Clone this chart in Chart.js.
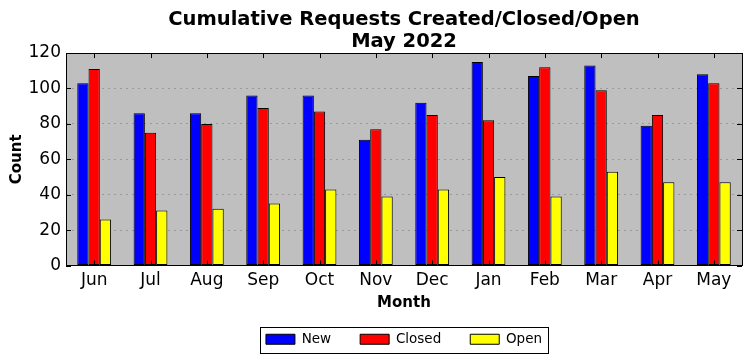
<!DOCTYPE html>
<html>
<head>
<meta charset="utf-8">
<script src="https://cdn.jsdelivr.net/npm/chart.js@4"></script>
<style>
  html, body { margin: 0; padding: 0; background: #fff; }
  #wrap { width: 752px; height: 361px; position: relative; }
</style>
</head>
<body>
<div id="wrap"><canvas id="chart"></canvas></div>
<script>
const months = ["Jun", "Jul", "Aug", "Sep", "Oct", "Nov", "Dec", "Jan", "Feb", "Mar", "Apr", "May"];
const newReqs = [103, 86, 86, 96, 96, 71, 92, 115, 107, 113, 79, 108];
const closedReqs = [111, 75, 80, 89, 87, 77, 85, 82, 112, 99, 85, 103];
const openReqs = [26, 31, 32, 35, 43, 39, 43, 50, 39, 53, 47, 47];
const yTicks = [0, 20, 40, 60, 80, 100, 120];

const FONT = "'DejaVu Sans', sans-serif";

// grey plot background, black frame, inward tick marks, legend box
const plotDecor = {
  id: "plotDecor",
  afterUpdate(chart) {
    // title and legend are centred over the plot area in the original
    const a = chart.chartArea;
    chart.legend.left = a.left;
    chart.legend.right = a.right;
    chart.titleBlock.left = a.left;
    chart.titleBlock.right = a.right;
  },
  beforeDraw(chart) {
    const a = chart.chartArea;
    const ctx = chart.ctx;
    ctx.save();
    ctx.fillStyle = "#bfbfbf";
    ctx.fillRect(a.left, a.top, a.right - a.left, a.bottom - a.top);
    ctx.restore();
  },
  afterDraw(chart) {
    const a = chart.chartArea;
    const ctx = chart.ctx;
    const x = chart.scales.x;
    const y = chart.scales.y;
    ctx.save();
    ctx.strokeStyle = "#000";
    ctx.lineWidth = 1;
    ctx.beginPath();
    months.forEach((m, i) => {
      const px = Math.round(x.getPixelForValue(i)) + 0.5;
      ctx.moveTo(px, a.top); ctx.lineTo(px, a.top + 5);
      ctx.moveTo(px, a.bottom); ctx.lineTo(px, a.bottom - 5);
    });
    yTicks.forEach(v => {
      const py = Math.round(y.getPixelForValue(v)) + 0.5;
      ctx.moveTo(a.left, py); ctx.lineTo(a.left + 5, py);
      ctx.moveTo(a.right, py); ctx.lineTo(a.right - 5, py);
    });
    ctx.stroke();
    ctx.strokeRect(Math.round(a.left) + 0.5, Math.round(a.top) + 0.5,
      Math.round(a.right - a.left), Math.round(a.bottom - a.top));

    // box round the legend items
    const lg = chart.legend;
    const pad = lg.options.labels.padding;
    const boxes = lg.legendHitBoxes;
    if (boxes && boxes.length) {
      const w = lg.lineWidths[0] - pad;
      const l = (lg.left + pad + lg.right - lg.lineWidths[0]) / 2 - 6;
      const t = lg.top + pad - 6;
      const h = boxes[0].height + 12;
      ctx.strokeRect(Math.round(l) + 0.5, Math.round(t) + 0.5, Math.round(w + 12), Math.round(h));
    }
    ctx.restore();
  }
};

const barStyle = { borderColor: "#000", borderWidth: 1, borderSkipped: false, categoryPercentage: 0.6, barPercentage: 1.0 };

chart = new Chart(document.getElementById("chart"), {
  type: "bar",
  data: {
    labels: months,
    datasets: [
      Object.assign({ label: "New", data: newReqs, backgroundColor: "#0000ff" }, barStyle),
      Object.assign({ label: "Closed", data: closedReqs, backgroundColor: "#ff0000" }, barStyle),
      Object.assign({ label: "Open", data: openReqs, backgroundColor: "#ffff00" }, barStyle),
    ],
  },
  options: {
    responsive: true,
    maintainAspectRatio: false,
    animation: false,
    layout: { padding: { left: 0, right: 10, top: 0, bottom: 5 } },
    plugins: {
      title: {
        display: true,
        text: ["Cumulative Requests Created/Closed/Open", "May 2022"],
        color: "#000",
        font: { family: FONT, size: 19.5, weight: "bold", lineHeight: 1.13 },
        padding: { top: 9, bottom: 0 },
      },
      legend: {
        position: "bottom",
        labels: {
          color: "#000",
          font: { family: FONT, size: 13.5 },
          boxWidth: 29,
          boxHeight: 10,
          padding: 29,
        },
      },
      tooltip: { enabled: false },
    },
    scales: {
      x: {
        grid: { display: false, drawTicks: false },
        border: { display: false },
        ticks: { color: "#000", font: { family: FONT, size: 17 }, padding: 5 },
        title: { display: true, text: "Month", color: "#000", font: { family: FONT, size: 15, weight: "bold" }, padding: { top: 0, bottom: -9 } },
        afterFit(scale) { scale.height = 38; },
      },
      y: {
        min: 0,
        max: 120,
        ticks: { stepSize: 20, color: "#000", font: { family: FONT, size: 17 }, padding: 5 },
        grid: { color: "#999", borderDash: [2, 4], drawTicks: false, lineWidth: 1 },
        border: { display: false, dash: [2, 4] },
        title: { display: true, text: "Count", color: "#000", font: { family: FONT, size: 15, weight: "bold" }, padding: { top: 8, bottom: 0 } },
        afterFit(scale) { scale.width = 66; },
      },
    },
  },
  plugins: [plotDecor],
});
</script>
</body>
</html>
